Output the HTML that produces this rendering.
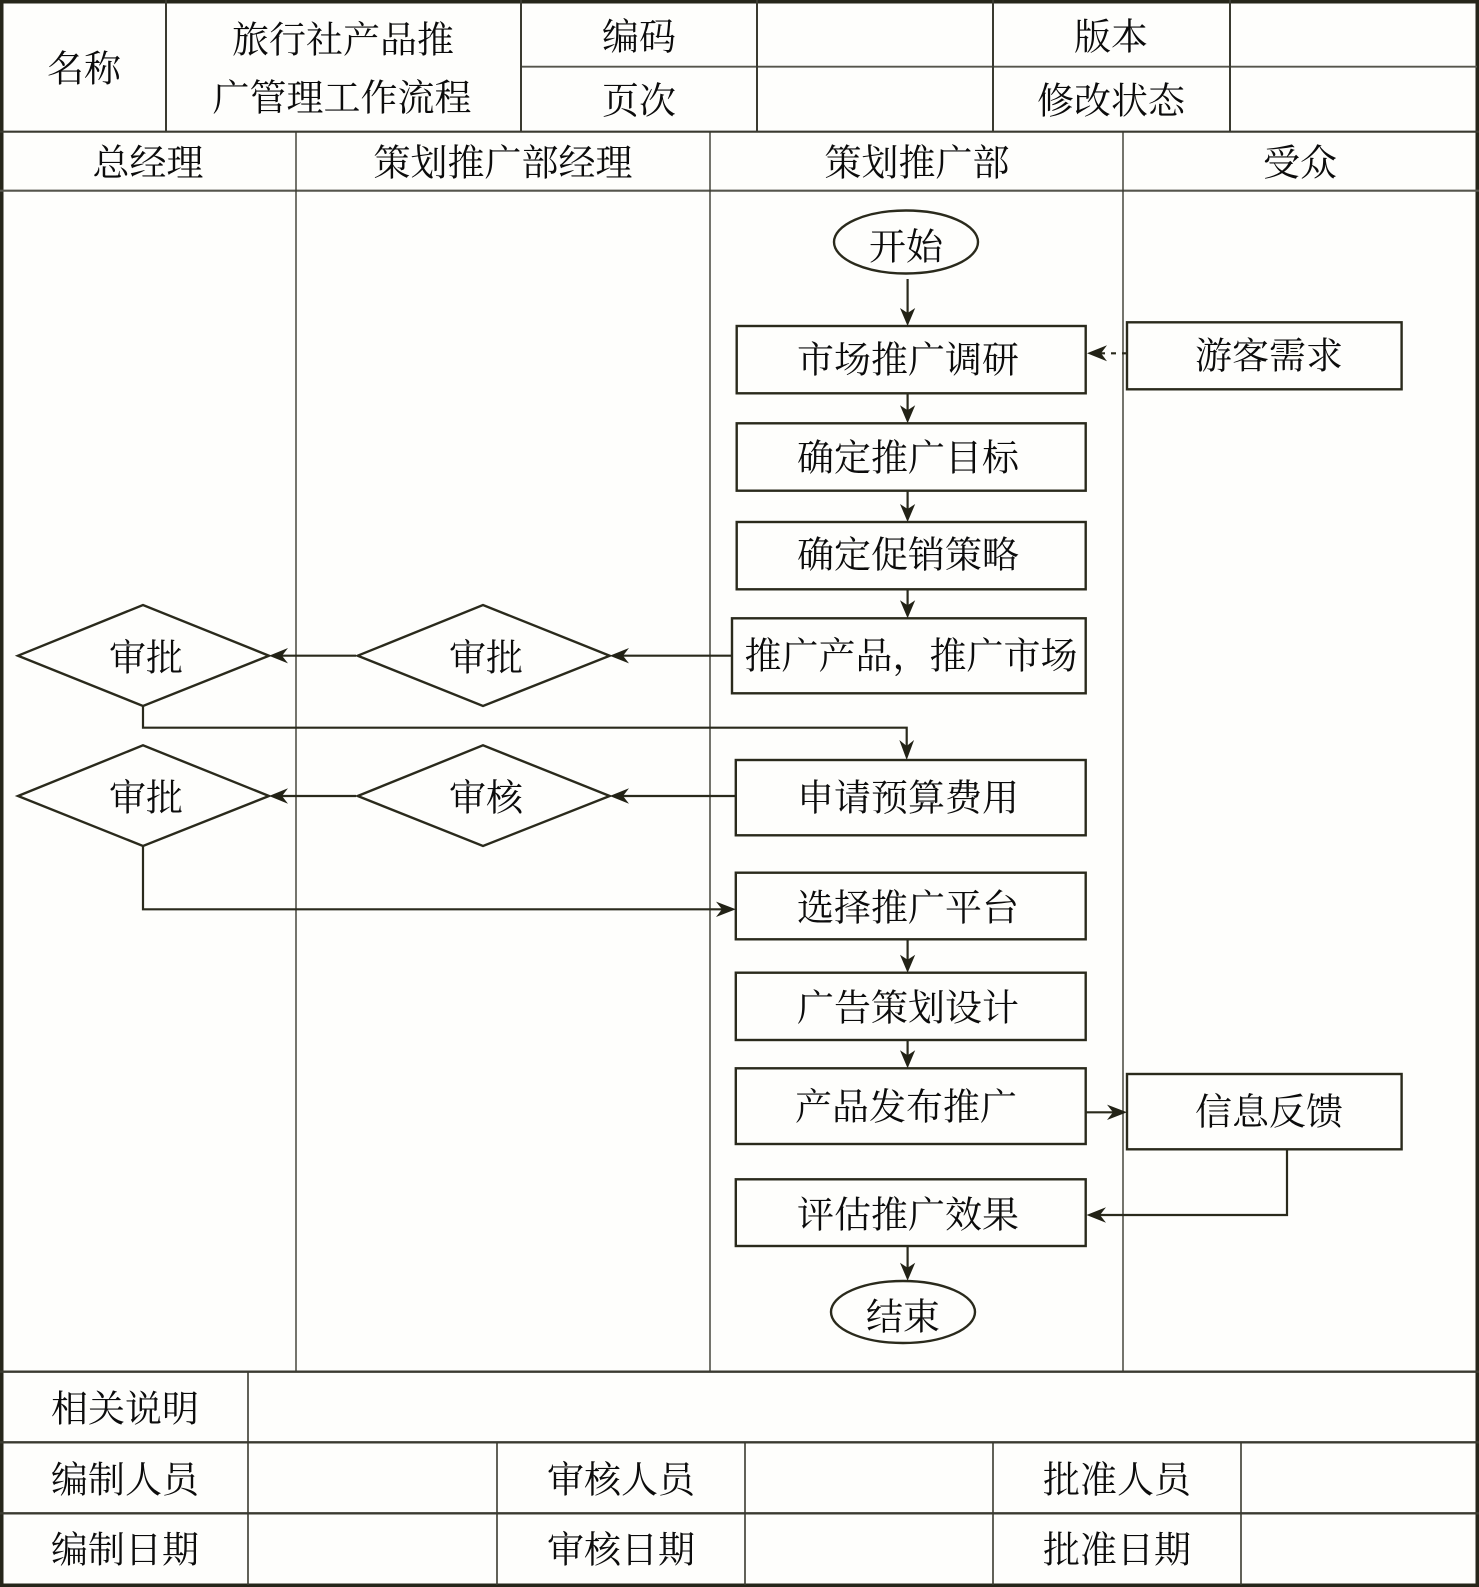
<!DOCTYPE html>
<html><head><meta charset="utf-8">
<style>
html,body{margin:0;padding:0;background:#fff;}
svg{display:block;}
text{font-family:"Liberation Serif","Noto Serif CJK SC","Noto Sans CJK SC",serif;font-size:37px;fill:#0c0c0c;text-anchor:middle;dominant-baseline:central;}
</style></head><body>
<svg width="1479" height="1587" viewBox="0 0 1479 1587" xmlns="http://www.w3.org/2000/svg">
<rect x="0" y="0" width="1479" height="1587" fill="#fefefc"/>
<!-- outer border -->
<rect x="1.75" y="1.75" width="1475.5" height="1583.5" fill="none" stroke="#26261a" stroke-width="3.5"/>
<!-- top table -->
<g stroke="#3a3a30" stroke-width="2" fill="none">
<line x1="521" y1="66.7" x2="1477" y2="66.7" stroke="#55554c" stroke-width="1.8"/>
<line x1="0" y1="131.7" x2="1479" y2="131.7" stroke-width="2.2"/>
<line x1="0" y1="190.7" x2="1479" y2="190.7" stroke="#55554c" stroke-width="2.2"/>
<line x1="166" y1="0" x2="166" y2="131.7"/>
<line x1="521" y1="0" x2="521" y2="131.7"/>
<line x1="757" y1="0" x2="757" y2="131.7"/>
<line x1="993" y1="0" x2="993" y2="131.7"/>
<line x1="1230" y1="0" x2="1230" y2="131.7"/>
<!-- lane dividers -->
<line x1="296" y1="131.7" x2="296" y2="1371.7" stroke-width="1.4"/>
<line x1="710" y1="131.7" x2="710" y2="1371.7" stroke-width="1.4"/>
<line x1="1123" y1="131.7" x2="1123" y2="1371.7" stroke-width="1.4"/>
<!-- bottom table -->
<line x1="0" y1="1371.7" x2="1479" y2="1371.7" stroke-width="2.4"/>
<line x1="0" y1="1442.3" x2="1479" y2="1442.3" stroke-width="2.4"/>
<line x1="0" y1="1513.3" x2="1479" y2="1513.3" stroke-width="2.4"/>
<line x1="248" y1="1371.7" x2="248" y2="1585" stroke-width="1.6"/>
<line x1="497" y1="1442.3" x2="497" y2="1585" stroke-width="1.6"/>
<line x1="745" y1="1442.3" x2="745" y2="1585" stroke-width="1.6"/>
<line x1="993" y1="1442.3" x2="993" y2="1585" stroke-width="1.6"/>
<line x1="1241" y1="1442.3" x2="1241" y2="1585" stroke-width="1.6"/>
</g>

<g transform="translate(0,3)">
<!-- header texts -->
<text x="84" y="67">名称</text>
<text x="343" y="38">旅行社产品推</text>
<text x="342" y="96">广管理工作流程</text>
<text x="639" y="35">编码</text>
<text x="639" y="99">页次</text>
<text x="1111" y="35">版本</text>
<text x="1111" y="99">修改状态</text>
<text x="148" y="161">总经理</text>
<text x="503" y="161">策划推广部经理</text>
<text x="917" y="161">策划推广部</text>
<text x="1300" y="161">受众</text>

<!-- bottom texts -->
<text x="125" y="1407">相关说明</text>
<text x="125" y="1478">编制人员</text>
<text x="621" y="1478">审核人员</text>
<text x="1117" y="1478">批准人员</text>
<text x="125" y="1548">编制日期</text>
<text x="621" y="1548">审核日期</text>
<text x="1117" y="1548">批准日期</text>
</g>

<!-- shapes -->
<g stroke="#2a2a1c" stroke-width="2.4" fill="#fefefc">
<ellipse cx="906" cy="242" rx="72" ry="31.5"/>
<rect x="736.7" y="326" width="349" height="67.3"/>
<rect x="1127" y="322.3" width="274.6" height="67"/>
<rect x="736.7" y="423.3" width="349" height="67.4"/>
<rect x="736.7" y="522" width="349" height="67.3"/>
<rect x="732" y="618.3" width="353.7" height="75"/>
<rect x="735.8" y="760" width="349.9" height="75.3"/>
<rect x="735.8" y="872.7" width="349.9" height="66.6"/>
<rect x="735.8" y="972.7" width="349.9" height="67.3"/>
<rect x="735.8" y="1068.3" width="349.9" height="75.7"/>
<rect x="1127" y="1074" width="274.6" height="75.3"/>
<rect x="735.8" y="1179.3" width="349.9" height="66.7"/>
<ellipse cx="903" cy="1312" rx="72" ry="31"/>
<polygon points="18,655.7 143,605 269,655.7 143,706"/>
<polygon points="357.7,655.7 483,605 609.7,655.7 483,706"/>
<polygon points="18,796 143,745.3 269,796 143,846"/>
<polygon points="357.7,796 483,745.3 609.7,796 483,846"/>
</g>

<!-- connectors -->
<g stroke="#2a2a1c" stroke-width="2.2" fill="none">
<line x1="907.6" y1="279" x2="907.6" y2="318"/>
<line x1="907.6" y1="393.3" x2="907.6" y2="416"/>
<line x1="907.6" y1="490.7" x2="907.6" y2="515"/>
<line x1="907.6" y1="589.3" x2="907.6" y2="611"/>
<line x1="732" y1="655.7" x2="620" y2="655.7"/>
<line x1="356" y1="655.7" x2="280" y2="655.7"/>
<polyline points="143,706 143,727.7 906.7,727.7 906.7,750"/>
<line x1="735.8" y1="796" x2="620" y2="796"/>
<line x1="356" y1="796" x2="280" y2="796"/>
<polyline points="143,846 143,909.3 726,909.3"/>
<line x1="907.6" y1="939.3" x2="907.6" y2="965"/>
<line x1="907.6" y1="1040" x2="907.6" y2="1061"/>
<line x1="1085.7" y1="1112.3" x2="1118" y2="1112.3"/>
<polyline points="1287,1149.3 1287,1215 1096,1215"/>
<line x1="907.6" y1="1246" x2="907.6" y2="1272"/>
<line x1="1127" y1="353.3" x2="1100" y2="353.3" stroke-dasharray="5,6"/>
</g>

<!-- arrowheads -->
<g fill="#222216" stroke="none">
<polygon points="907.6,326 900,308 907.6,313 915.2,308"/>
<polygon points="907.6,423.3 900,405.3 907.6,410.3 915.2,405.3"/>
<polygon points="907.6,522 900,504 907.6,509 915.2,504"/>
<polygon points="907.6,618.3 900,600.3 907.6,605.3 915.2,600.3"/>
<polygon points="906.7,760 899.3,740 906.7,746 914.1,740"/>
<polygon points="907.6,972.7 900,954.7 907.6,959.7 915.2,954.7"/>
<polygon points="907.6,1068.3 900,1050.3 907.6,1055.3 915.2,1050.3"/>
<polygon points="907.6,1280.7 900,1262.7 907.6,1267.7 915.2,1262.7"/>
<polygon points="609.7,655.7 629,648 623,655.7 629,663.4"/>
<polygon points="269,655.7 288,648 282,655.7 288,663.4"/>
<polygon points="609.7,796 629,788.3 623,796 629,803.7"/>
<polygon points="269,796 288,788.3 282,796 288,803.7"/>
<polygon points="1086.5,1215 1106,1207.3 1100,1215 1106,1222.7"/>
<polygon points="1087,353.3 1107,345.3 1101,353.3 1107,361.3"/>
<polygon points="735.8,909.3 716,901.6 722,909.3 716,917"/>
<polygon points="1127,1112.3 1107,1104.6 1113,1112.3 1107,1120"/>
</g>

<!-- node texts -->
<g transform="translate(0,3)">
<text x="906" y="245">开始</text>
<text x="908" y="358">市场推广调研</text>
<text x="1269" y="354">游客需求</text>
<text x="908" y="456">确定推广目标</text>
<text x="908" y="553">确定促销策略</text>
<text x="911" y="654">推广产品，推广市场</text>
<text x="908" y="796">申请预算费用</text>
<text x="908" y="906">选择推广平台</text>
<text x="908" y="1006">广告策划设计</text>
<text x="906" y="1105">产品发布推广</text>
<text x="1269" y="1110">信息反馈</text>
<text x="908" y="1213">评估推广效果</text>
<text x="903" y="1315">结束</text>
<text x="146" y="656">审批</text>
<text x="486" y="656">审批</text>
<text x="146" y="796">审批</text>
<text x="486" y="796">审核</text>
</g>
</svg>
</body></html>
